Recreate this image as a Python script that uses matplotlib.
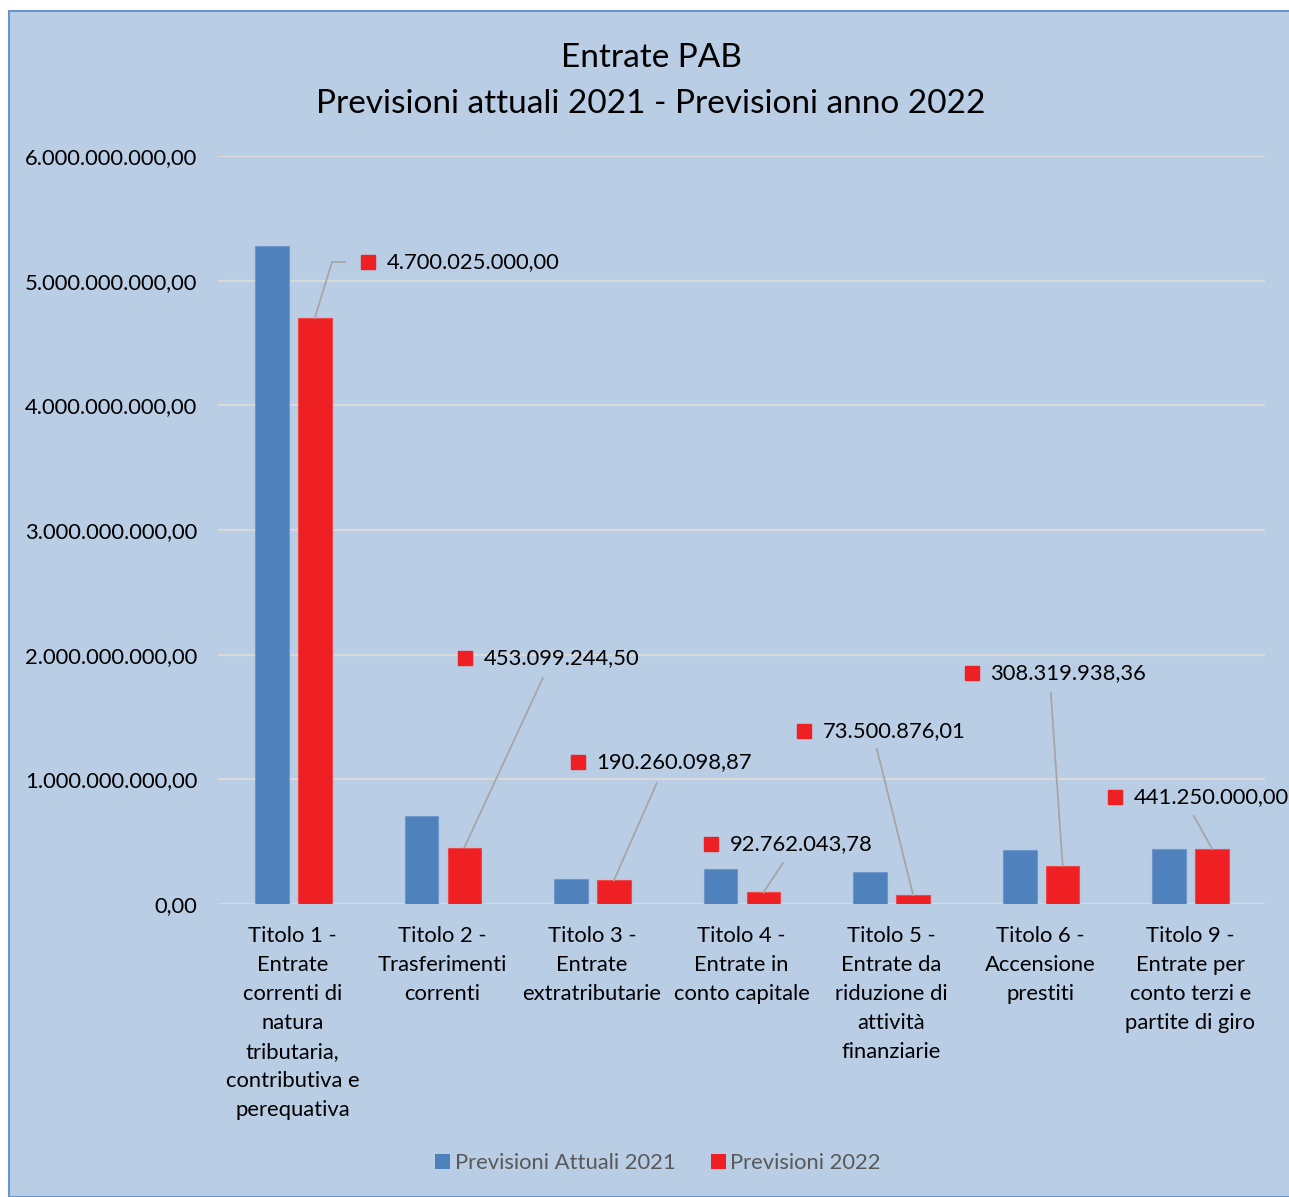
import matplotlib.pyplot as plt
from matplotlib.patches import Rectangle, Patch
from matplotlib.ticker import FuncFormatter
import numpy as np

plt.rcParams['font.family'] = ['Lato', 'DejaVu Sans']

categorie = ['Titolo 1 -\nEntrate\ncorrenti di\nnatura\ntributaria,\ncontributiva e\nperequativa',
             'Titolo 2 -\nTrasferimenti\ncorrenti',
             'Titolo 3 -\nEntrate\nextratributarie',
             'Titolo 4 -\nEntrate in\nconto capitale',
             'Titolo 5 -\nEntrate da\nriduzione di\nattività\nfinanziarie',
             'Titolo 6 -\nAccensione\nprestiti',
             'Titolo 9 -\nEntrate per\nconto terzi e\npartite di giro']
prev_2021 = [5278000000, 706000000, 200000000, 281000000, 257000000, 433000000, 445000000]
prev_2022 = [4700025000.00, 453099244.50, 190260098.87, 92762043.78,
             73500876.01, 308319938.36, 441250000.00]

# posizioni etichette (quadratino) e fine linea guida, in coordinate dati
lab_pos = [(0.503, 5.15e9), (1.151, 1.973e9), (1.906, 1.139e9), (2.796, 0.481e9),
           (3.417, 1.388e9), (4.540, 1.853e9), (5.496, 0.858e9)]
lead_end = [(0.262, 5.15e9), (1.672, 1.813e9), (2.434, 0.971e9), (3.277, 0.329e9),
            (3.905, 1.243e9), (5.068, 1.692e9), (6.024, 0.706e9)]

blu = '#4F81BD'
rosso = '#EE2024'
sfondo = '#B9CDE5'
fs = 15.8


def fmt_it(v, pos=None):
    s = '{:,.2f}'.format(v)
    return s.replace(',', 'X').replace('.', ',').replace('X', '.')


fig = plt.figure(figsize=(12.89, 11.97), dpi=100)
fig.patch.set_facecolor('white')
fig.patches.append(Rectangle((9 / 1289, 0.0), 1.0, 1 - 11 / 1197, transform=fig.transFigure,
                             facecolor=sfondo, edgecolor='#6A93CC', linewidth=1.5, zorder=-10))

ax = fig.add_axes([218 / 1289, 1 - 904 / 1197, (1265 - 218) / 1289, (904 - 156) / 1197])
ax.set_facecolor('none')
x = np.arange(len(categorie))
w = 0.225
ax.bar(x - 0.14, prev_2021, w, color=blu, edgecolor='#6F97CC', linewidth=0.8, zorder=3)
ax.bar(x + 0.147, prev_2022, w, color=rosso, edgecolor='#F04848', linewidth=0.8, zorder=3)

ax.set_ylim(0, 6e9)
ax.set_xlim(-0.5, 6.5)
ax.set_yticks(np.arange(0, 6.01e9, 1e9))
ax.yaxis.set_major_formatter(FuncFormatter(fmt_it))
ax.grid(axis='y', color='#D9D9D9', linewidth=1.6, zorder=0)
for s in ax.spines.values():
    s.set_visible(False)
ax.tick_params(axis='both', length=0, labelsize=fs, colors='black')
ax.tick_params(axis='y', pad=15)
ax.tick_params(axis='x', pad=16)
ax.set_xticks(x)
ax.set_xticklabels(categorie, fontsize=fs, linespacing=1.56, va='top')

for i, v in enumerate(prev_2022):
    lx, ly = lab_pos[i]
    ex, ey = lead_end[i]
    if i == 0:
        ax.plot([x[i] + 0.147, ex, ex + 0.087], [v, ey, ey], color='#A6A6A6', linewidth=1.3, zorder=4)
    else:
        ax.plot([x[i] + 0.147, ex], [v, ey], color='#A6A6A6', linewidth=1.3, zorder=4)
    ax.plot(lx, ly, 's', color=rosso, markersize=10, zorder=5)
    ax.text(lx + 0.125, ly, fmt_it(v), fontsize=fs, va='center', ha='left', zorder=5)

fig.text(651 / 1289, 1 - 58 / 1197, 'Entrate PAB', fontsize=24, ha='center', va='center')
fig.text(651 / 1289, 1 - 104 / 1197, 'Previsioni attuali 2021 - Previsioni anno 2022',
         fontsize=24, ha='center', va='center')

handles = [Patch(facecolor=blu, label='Previsioni Attuali 2021'),
           Patch(facecolor=rosso, label='Previsioni 2022')]
leg = fig.legend(handles=handles, loc='center', bbox_to_anchor=(658 / 1289, 1 - 1163 / 1197),
                 ncol=2, frameon=False, fontsize=fs, handlelength=0.7, handleheight=0.7,
                 handletextpad=0.2, columnspacing=1.6)
for t in leg.get_texts():
    t.set_color('#595959')

fig.savefig('out.png', dpi=100)
